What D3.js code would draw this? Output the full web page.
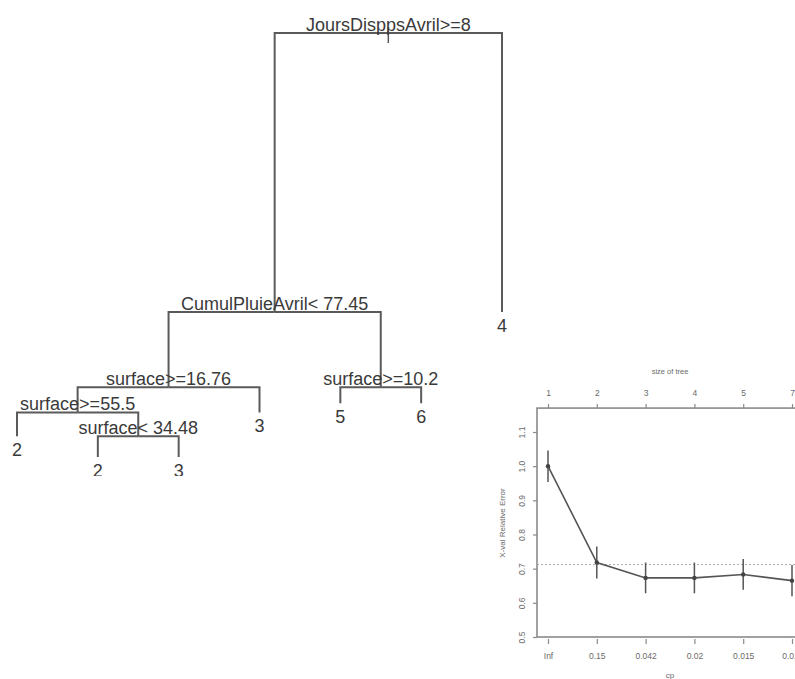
<!DOCTYPE html>
<html><head><meta charset="utf-8">
<script src="https://cdn.jsdelivr.net/npm/d3@7"></script>
<style>
body{margin:0;background:#fff;}
svg{display:block;font-family:"Liberation Sans",Arial,sans-serif;}
</style></head>
<body>
<svg id="c" width="795" height="679"></svg>
<script>
// ---- Tree data (rpart) ----
const nodeIds     = ["n1","n2","n3","n4","n5","n6","n7","n8","n9","n10","n11","n12","n13"];
const nodeParents = ["",  "n1","n2","n3","n4","n4","n6","n6","n3","n2", "n10","n10","n1"];
const nodeText    = ["JoursDisppsAvril>=8","CumulPluieAvril< 77.45","surface>=16.76","surface>=55.5","2",
                     "surface< 34.48","2","3","3","surface>=10.2","5","6","4"];
const nodeGain    = [1.0, 0.27, 0.09, 0.085, 0, 0.075, 0, 0, 0, 0.057, 0, 0, 0];

// ---- Cross-validation (plotcp) data ----
const cpLabels  = ["Inf","0.15","0.042","0.02","0.015","0.011"];
const treeSizes = ["1","2","3","4","5","7"];
const xerror    = [1.0, 0.718, 0.673, 0.673, 0.683, 0.665];
const xstd      = [0.046, 0.047, 0.045, 0.045, 0.045, 0.046];
const yTicks    = [0.5, 0.6, 0.7, 0.8, 0.9, 1.0, 1.1];
const minLine   = 0.712;

const svg = d3.select("#c");

// ---------- Tree ----------
const table = nodeIds.map((id,i)=>({id, parent: nodeParents[i]||null, text: nodeText[i], gain: nodeGain[i]}));
const root = d3.stratify().id(d=>d.id).parentId(d=>d.parent)(table);
const leaves = root.leaves();
const xT = d3.scaleLinear().domain([0, leaves.length-1]).range([17, 502]);
const yT = d3.scaleLinear().domain([0, 1]).range([33, 312]);
leaves.forEach((l,i)=>{ l.lx = i; });
root.eachAfter(n=>{ n.px = n.children ? d3.mean(n.children, c=>c.px) : xT(n.lx); });
root.eachBefore(n=>{ n.dep = n.parent ? n.parent.dep + n.parent.data.gain : 0; n.py = yT(n.dep); });

const defs = svg.append("defs");
defs.append("clipPath").attr("id","treeclip").append("rect").attr("x",0).attr("y",0).attr("width",795).attr("height",476);
const gT = svg.append("g").attr("clip-path","url(#treeclip)");

const lineCol = "#5a5a5a";
const fs = 18;
root.descendants().forEach(n=>{
  if(!n.parent) return;
  gT.append("path")
    .attr("d", `M${n.px},${n.py}V${n.parent.py}H${n.parent.px}`)
    .attr("fill","none").attr("stroke",lineCol).attr("stroke-width",2);
});
gT.append("line").attr("x1",root.px).attr("x2",root.px).attr("y1",root.py-6).attr("y2",root.py+10)
  .attr("stroke",lineCol).attr("stroke-width",1.5);
root.descendants().filter(n=>n.children).forEach(n=>{
  gT.append("text").attr("x",n.px).attr("y",n.py-2).attr("text-anchor","middle")
    .attr("font-size",fs).attr("fill","#3a3a3a").text(n.data.text);
});
leaves.forEach(n=>{
  gT.append("text").attr("x",n.px).attr("y",n.py+19.5).attr("text-anchor","middle")
    .attr("font-size",fs).attr("fill","#3a3a3a").text(n.data.text);
});

// ---------- plotcp ----------
const x = d3.scaleLinear().domain([1, 6]).range([548, 792]);
const y = d3.scaleLinear().domain([0.5, 1.1]).range([637, 432]);
const box = {l: 537, r: 803, t: y(1.17), b: 637};
const gc = svg.append("g").attr("font-size",8);
const txtCol = "#6a6a6a";
const idx = d3.range(xerror.length);

gc.append("rect").attr("x",box.l).attr("y",box.t).attr("width",box.r-box.l).attr("height",box.b-box.t)
  .attr("fill","none").attr("stroke","#8a8a8a").attr("stroke-width",1.6);

const axB = d3.axisBottom(x).tickValues(idx.map(i=>i+1)).tickFormat((d,i)=>cpLabels[i]).tickSize(5).tickPadding(9);
const gB = gc.append("g").attr("transform",`translate(0,${box.b+2})`).call(axB);
const axTop = d3.axisTop(x).tickValues(idx.map(i=>i+1)).tickFormat((d,i)=>treeSizes[i]).tickSize(4).tickPadding(8);
const gTop = gc.append("g").attr("transform",`translate(0,${box.t})`).call(axTop);
const axL = d3.axisLeft(y).tickValues(yTicks).tickFormat(d3.format(".1f")).tickSize(4).tickPadding(6);
const gL = gc.append("g").attr("transform",`translate(${box.l},0)`).call(axL);
gL.selectAll(".tick text").attr("transform","rotate(-90)")
  .attr("x",0).attr("y",-12).attr("text-anchor","middle").attr("dy","0");
[gB,gTop,gL].forEach(g=>{
  g.select(".domain").remove();
  g.selectAll(".tick line").attr("stroke","#8a8a8a").attr("stroke-width",1.2);
  g.selectAll(".tick text").attr("fill",txtCol).attr("font-size",8.5).attr("font-family","Liberation Sans, Arial, sans-serif");
});

gc.append("text").attr("x",670).attr("y",374).attr("text-anchor","middle").attr("fill",txtCol).attr("font-size",7.5).text("size of tree");
gc.append("text").attr("x",670).attr("y",678).attr("text-anchor","middle").attr("fill",txtCol).attr("font-size",8).text("cp");
gc.append("text").attr("transform",`translate(505,523) rotate(-90)`).attr("text-anchor","middle").attr("fill",txtCol).attr("font-size",8).text("X-val Relative Error");

gc.append("line").attr("x1",box.l).attr("x2",box.r).attr("y1",y(minLine)).attr("y2",y(minLine))
  .attr("stroke","#aaa").attr("stroke-width",1).attr("stroke-dasharray","2,2");

idx.forEach(i=>{
  gc.append("line").attr("x1",x(i+1)).attr("x2",x(i+1)).attr("y1",y(xerror[i]-xstd[i])).attr("y2",y(xerror[i]+xstd[i]))
    .attr("stroke","#555").attr("stroke-width",1.5);
});
gc.append("path").datum(idx).attr("fill","none").attr("stroke","#555").attr("stroke-width",1.6)
  .attr("d", d3.line().x(i=>x(i+1)).y(i=>y(xerror[i])));
gc.selectAll("circle.pt").data(idx).join("circle").attr("class","pt")
  .attr("cx",i=>x(i+1)).attr("cy",i=>y(xerror[i])).attr("r",2.2).attr("fill","#444");
</script>
</body></html>
